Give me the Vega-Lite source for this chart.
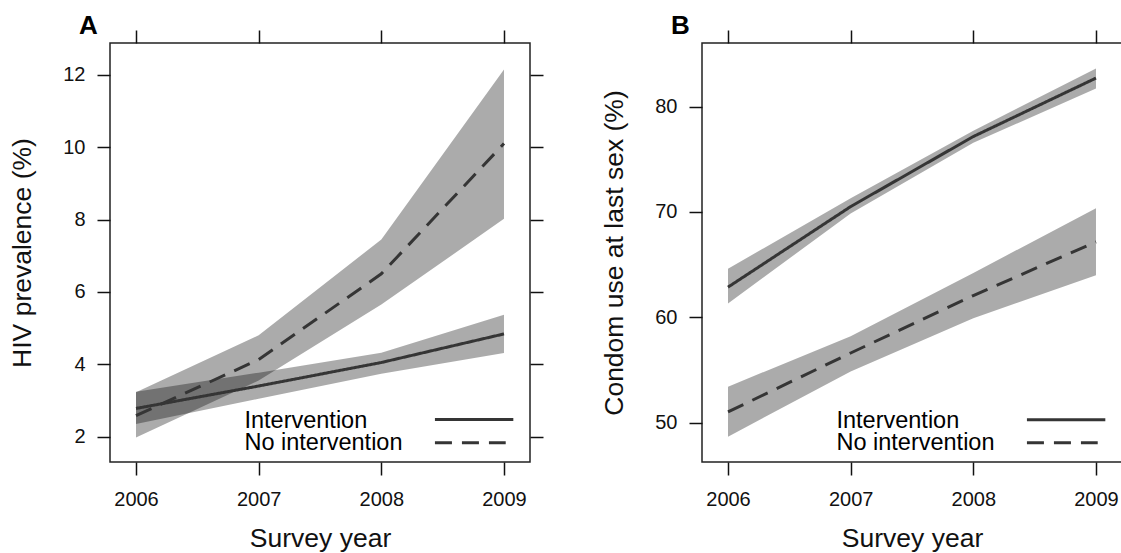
{
  "$schema": "https://vega.github.io/schema/vega-lite/v6.json",
  "background": "white",
  "padding": {"left": 9, "top": 12, "right": 0, "bottom": 0},
  "spacing": 56,
  "datasets": {
    "hiv": [
      {"year": 2006, "group": "Intervention", "est": 2.78, "lo": 2.35, "hi": 3.24},
      {"year": 2007, "group": "Intervention", "est": 3.40, "lo": 3.05, "hi": 3.77},
      {"year": 2008, "group": "Intervention", "est": 4.05, "lo": 3.74, "hi": 4.32},
      {"year": 2009, "group": "Intervention", "est": 4.84, "lo": 4.31, "hi": 5.37},
      {"year": 2006, "group": "No intervention", "est": 2.58, "lo": 1.98, "hi": 3.23},
      {"year": 2007, "group": "No intervention", "est": 4.13, "lo": 3.55, "hi": 4.80},
      {"year": 2008, "group": "No intervention", "est": 6.50, "lo": 5.65, "hi": 7.45},
      {"year": 2009, "group": "No intervention", "est": 10.10, "lo": 8.02, "hi": 12.15}
    ],
    "condom": [
      {"year": 2006, "group": "Intervention", "est": 62.85, "lo": 61.3, "hi": 64.6},
      {"year": 2007, "group": "Intervention", "est": 70.5, "lo": 69.85, "hi": 71.3},
      {"year": 2008, "group": "Intervention", "est": 77.15, "lo": 76.55, "hi": 77.7},
      {"year": 2009, "group": "Intervention", "est": 82.7, "lo": 81.7, "hi": 83.6},
      {"year": 2006, "group": "No intervention", "est": 51.0, "lo": 48.65, "hi": 53.4},
      {"year": 2007, "group": "No intervention", "est": 56.6, "lo": 54.85, "hi": 58.2},
      {"year": 2008, "group": "No intervention", "est": 62.05, "lo": 59.9, "hi": 64.2},
      {"year": 2009, "group": "No intervention", "est": 67.15, "lo": 63.98, "hi": 70.35}
    ],
    "one": [{}]
  },
  "hconcat": [
    {
      "width": 420,
      "height": 419,
      "title": {"text": "A", "anchor": "start", "frame": "group", "dx": -31, "offset": -10, "fontSize": 26, "fontWeight": "bold", "font": "Liberation Sans", "color": "black"},
      "data": {"name": "hiv"},
      "layer": [
        {
          "mark": {"type": "area", "fill": "black", "fillOpacity": 0.33},
          "encoding": {
            "x": {"field": "year", "type": "quantitative", "scale": {"domain": [2005.788, 2009.212], "nice": false, "zero": false}, "axis": {"orient": "bottom", "values": [2006, 2007, 2008, 2009], "format": "d", "title": "Survey year"}},
            "y": {"field": "lo", "type": "quantitative", "scale": {"domain": [1.30, 12.88], "nice": false, "zero": false}, "axis": {"orient": "left", "values": [2, 4, 6, 8, 10, 12], "title": "HIV prevalence (%)"}},
            "y2": {"field": "hi"},
            "detail": {"field": "group"}
          }
        },
        {
          "mark": {"type": "line", "stroke": "#353535", "strokeWidth": 3},
          "encoding": {
            "x": {"field": "year", "type": "quantitative", "axis": {"orient": "top", "values": [2006, 2007, 2008, 2009], "labels": false, "title": null}},
            "y": {"field": "est", "type": "quantitative", "axis": {"orient": "right", "values": [2, 4, 6, 8, 10, 12], "labels": false, "title": null}},
            "strokeDash": {"field": "group", "type": "nominal", "scale": {"domain": ["Intervention", "No intervention"], "range": [[1, 0], [17, 10]]}, "legend": null}
          }
        },
        {
          "data": {"name": "one"},
          "mark": {"type": "text", "align": "left", "baseline": "middle", "fontSize": 23.5, "font": "Liberation Sans", "color": "black"},
          "encoding": {
            "x": {"datum": 2006.884, "type": "quantitative", "axis": null},
            "y": {"datum": 2.44, "type": "quantitative", "axis": null},
            "text": {"value": "Intervention"}
          }
        },
        {
          "data": {"name": "one"},
          "mark": {"type": "text", "align": "left", "baseline": "middle", "fontSize": 23.5, "font": "Liberation Sans", "color": "black"},
          "encoding": {
            "x": {"datum": 2006.884, "type": "quantitative", "axis": null},
            "y": {"datum": 1.82, "type": "quantitative", "axis": null},
            "text": {"value": "No intervention"}
          }
        },
        {
          "data": {"name": "one"},
          "mark": {"type": "rule", "stroke": "#353535", "strokeWidth": 3},
          "encoding": {
            "x": {"datum": 2008.437, "type": "quantitative", "axis": null},
            "x2": {"datum": 2009.076},
            "y": {"datum": 2.475, "type": "quantitative", "axis": null}
          }
        },
        {
          "data": {"name": "one"},
          "mark": {"type": "rule", "stroke": "#353535", "strokeWidth": 3, "strokeDash": [17, 10]},
          "encoding": {
            "x": {"datum": 2008.437, "type": "quantitative", "axis": null},
            "x2": {"datum": 2009.014},
            "y": {"datum": 1.83, "type": "quantitative", "axis": null}
          }
        }
      ],
      "resolve": {"axis": {"x": "independent", "y": "independent"}}
    },
    {
      "width": 420,
      "height": 419,
      "title": {"text": "B", "anchor": "start", "frame": "group", "dx": -31, "offset": -10, "fontSize": 26, "fontWeight": "bold", "font": "Liberation Sans", "color": "black"},
      "data": {"name": "condom"},
      "layer": [
        {
          "mark": {"type": "area", "fill": "black", "fillOpacity": 0.33},
          "encoding": {
            "x": {"field": "year", "type": "quantitative", "scale": {"domain": [2005.788, 2009.212], "nice": false, "zero": false}, "axis": {"orient": "bottom", "values": [2006, 2007, 2008, 2009], "format": "d", "title": "Survey year"}},
            "y": {"field": "lo", "type": "quantitative", "scale": {"domain": [46.25, 86.03], "nice": false, "zero": false}, "axis": {"orient": "left", "values": [50, 60, 70, 80], "title": "Condom use at last sex (%)"}},
            "y2": {"field": "hi"},
            "detail": {"field": "group"}
          }
        },
        {
          "mark": {"type": "line", "stroke": "#353535", "strokeWidth": 3},
          "encoding": {
            "x": {"field": "year", "type": "quantitative", "axis": {"orient": "top", "values": [2006, 2007, 2008, 2009], "labels": false, "title": null}},
            "y": {"field": "est", "type": "quantitative", "axis": null},
            "strokeDash": {"field": "group", "type": "nominal", "scale": {"domain": ["Intervention", "No intervention"], "range": [[1, 0], [17, 10]]}, "legend": null}
          }
        },
        {
          "data": {"name": "one"},
          "mark": {"type": "text", "align": "left", "baseline": "middle", "fontSize": 23.5, "font": "Liberation Sans", "color": "black"},
          "encoding": {
            "x": {"datum": 2006.884, "type": "quantitative", "axis": null},
            "y": {"datum": 50.16, "type": "quantitative", "axis": null},
            "text": {"value": "Intervention"}
          }
        },
        {
          "data": {"name": "one"},
          "mark": {"type": "text", "align": "left", "baseline": "middle", "fontSize": 23.5, "font": "Liberation Sans", "color": "black"},
          "encoding": {
            "x": {"datum": 2006.884, "type": "quantitative", "axis": null},
            "y": {"datum": 48.04, "type": "quantitative", "axis": null},
            "text": {"value": "No intervention"}
          }
        },
        {
          "data": {"name": "one"},
          "mark": {"type": "rule", "stroke": "#353535", "strokeWidth": 3},
          "encoding": {
            "x": {"datum": 2008.437, "type": "quantitative", "axis": null},
            "x2": {"datum": 2009.076},
            "y": {"datum": 50.27, "type": "quantitative", "axis": null}
          }
        },
        {
          "data": {"name": "one"},
          "mark": {"type": "rule", "stroke": "#353535", "strokeWidth": 3, "strokeDash": [17, 10]},
          "encoding": {
            "x": {"datum": 2008.437, "type": "quantitative", "axis": null},
            "x2": {"datum": 2009.014},
            "y": {"datum": 48.07, "type": "quantitative", "axis": null}
          }
        }
      ],
      "resolve": {"axis": {"x": "independent", "y": "independent"}}
    }
  ],
  "config": {
    "view": {"stroke": "#222222", "strokeWidth": 1.5},
    "axis": {
      "domain": false,
      "grid": false,
      "ticks": true,
      "tickColor": "#111111",
      "tickWidth": 1.5,
      "tickSize": 13,
      "labelFont": "Liberation Sans",
      "labelFontSize": 20,
      "labelColor": "#111111",
      "titleFont": "Liberation Sans",
      "titleFontSize": 26.5,
      "titleFontWeight": "normal",
      "titleColor": "#111111"
    },
    "axisX": {"labelPadding": 14, "titlePadding": 16},
    "axisY": {"labelPadding": 12, "titlePadding": 26}
  }
}
